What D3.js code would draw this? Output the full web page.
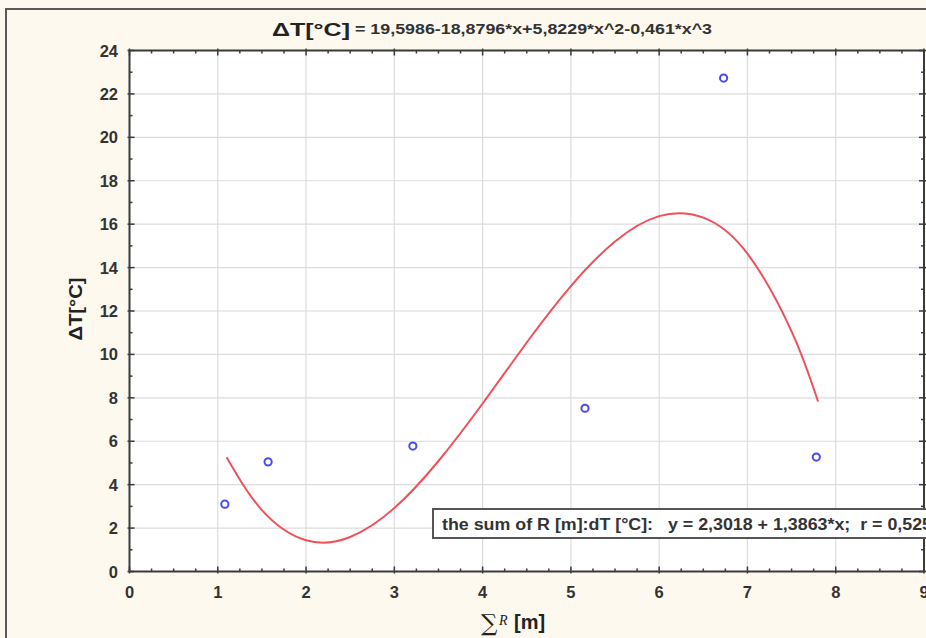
<!DOCTYPE html>
<html>
<head>
<meta charset="utf-8">
<script src="https://cdn.jsdelivr.net/npm/d3@7"></script>
<style>
html,body{margin:0;padding:0;background:#fdf9ef;overflow:hidden;}
svg{display:block;}
</style>
</head>
<body>
<svg id="chart" width="926" height="638"></svg>
<script>
// Observed data points (Sum R [m], dT [°C])
const pointX = [1.08, 1.57, 3.21, 5.16, 6.73, 7.78];
const pointY = [3.1, 5.05, 5.78, 7.52, 22.73, 5.27];
// Fitted curve
const curveX = [1.1, 1.5, 2.0, 2.5, 3.0, 3.5, 4.0, 4.5, 5.0, 5.5, 6.0, 6.5, 7.0, 7.5, 7.8];
const curveY = [5.26, 2.83, 1.44, 1.59, 2.92, 5.09, 7.74, 10.55, 13.15, 15.2, 16.37, 16.3, 14.64, 11.06, 7.83];
const xTicks = [0, 1, 2, 3, 4, 5, 6, 7, 8, 9];
const yTicks = [0, 2, 4, 6, 8, 10, 12, 14, 16, 18, 20, 22, 24];
const titleBold = "ΔT[°C]";
const titleRest = "= 19,5986-18,8796*x+5,8229*x^2-0,461*x^3";
const yLabel = "ΔT[°C]";
const legendText = "the sum of R [m]:dT [°C]:   y = 2,3018 + 1,3863*x;  r = 0,525";

const svg = d3.select("#chart");
const L = 129.5, R = 924, T = 50.5, B = 571.5;
const x = d3.scaleLinear().domain([0, 9]).range([L, R]);
const y = d3.scaleLinear().domain([0, 24]).range([B, T]);

svg.append("rect").attr("width", 926).attr("height", 638).attr("fill", "#fdf9ef");
svg.append("rect").attr("x", 6).attr("y", 9).attr("width", 1000).attr("height", 1000)
  .attr("fill", "none").attr("stroke", "#5a5a5a").attr("stroke-width", 2);

// plot area
svg.append("rect").attr("x", L).attr("y", T).attr("width", R - L).attr("height", B - T).attr("fill", "#ffffff");

// grid
const grid = svg.append("g").attr("stroke", "#dcdcdc").attr("stroke-width", 1.2);
xTicks.slice(1, -1).forEach(v => grid.append("line").attr("x1", x(v)).attr("x2", x(v)).attr("y1", T).attr("y2", B));
yTicks.slice(1, -1).forEach(v => grid.append("line").attr("y1", y(v)).attr("y2", y(v)).attr("x1", L).attr("x2", R));

// curve
svg.append("path")
  .datum(curveX.map((v, i) => [v, curveY[i]]))
  .attr("fill", "none").attr("stroke", "#f0505a").attr("stroke-width", 2)
  .attr("d", d3.line().x(d => x(d[0])).y(d => y(d[1])).curve(d3.curveNatural));

// points
svg.append("g").selectAll("circle").data(pointX.map((v, i) => [v, pointY[i]])).join("circle")
  .attr("cx", d => x(d[0])).attr("cy", d => y(d[1])).attr("r", 3.6)
  .attr("fill", "none").attr("stroke", "#4a4af0").attr("stroke-width", 2);

// frame with inward ticks
const fr = svg.append("g").attr("stroke", "#3a3a3a");
const xMinor = d3.range(0, 9.001, 0.25);
const yMinor = d3.range(0, 24.001, 1);
xMinor.forEach(v => {
  const major = Math.abs(v - Math.round(v)) < 1e-6;
  const len = major ? 5 : 3;
  fr.append("line").attr("x1", x(v)).attr("x2", x(v)).attr("y1", B + (major ? 2 : 0)).attr("y2", B - len).attr("stroke-width", 1.5);
  fr.append("line").attr("x1", x(v)).attr("x2", x(v)).attr("y1", T - (major ? 2 : 0)).attr("y2", T + len).attr("stroke-width", 1.5);
});
yMinor.forEach(v => {
  const major = v % 2 === 0;
  const len = major ? 5 : 3;
  fr.append("line").attr("y1", y(v)).attr("y2", y(v)).attr("x1", L - (major ? 2 : 0)).attr("x2", L + len).attr("stroke-width", 1.5);
  fr.append("line").attr("y1", y(v)).attr("y2", y(v)).attr("x1", R + (major ? 2 : 0)).attr("x2", R - len).attr("stroke-width", 1.5);
});
svg.append("rect").attr("x", L).attr("y", T).attr("width", R - L).attr("height", B - T)
  .attr("fill", "none").attr("stroke", "#3a3a3a").attr("stroke-width", 2);

// tick labels
const font = "'Liberation Sans', Arial, sans-serif";
svg.append("g").selectAll("text").data(yTicks).join("text")
  .attr("x", 118).attr("y", d => y(d) + 6).attr("text-anchor", "end")
  .attr("font-family", font).attr("font-weight", "bold").attr("font-size", 16.5).attr("fill", "#333")
  .text(d => d);
svg.append("g").selectAll("text").data(xTicks).join("text")
  .attr("x", d => x(d)).attr("y", 598).attr("text-anchor", "middle")
  .attr("font-family", font).attr("font-weight", "bold").attr("font-size", 16.5).attr("fill", "#333")
  .text(d => d);

// title
svg.append("text").attr("x", 272).attr("y", 36).attr("font-family", font).attr("fill", "#222")
  .attr("font-weight", "bold").attr("font-size", 19).attr("textLength", 78).attr("lengthAdjust", "spacingAndGlyphs")
  .text(titleBold);
svg.append("text").attr("x", 355).attr("y", 34).attr("font-family", font).attr("fill", "#333")
  .attr("font-weight", "bold").attr("font-size", 14).attr("textLength", 357).attr("lengthAdjust", "spacingAndGlyphs")
  .text(titleRest);

// y label
svg.append("text").attr("transform", "translate(82,309) rotate(-90)").attr("text-anchor", "middle")
  .attr("font-family", font).attr("font-weight", "bold").attr("font-size", 19).attr("fill", "#222")
  .attr("textLength", 63).attr("lengthAdjust", "spacingAndGlyphs").text(yLabel);

// x label
svg.append("text").attr("x", 481).attr("y", 631).attr("font-size", 23)
  .attr("font-family", "'DejaVu Serif', serif").attr("fill", "#222").text("∑");
svg.append("text").attr("x", 499).attr("y", 625).attr("font-size", 14).attr("font-style", "italic")
  .attr("font-family", "'Liberation Serif', serif").attr("fill", "#222").text("R");
svg.append("text").attr("x", 514).attr("y", 629).attr("font-size", 20).attr("font-weight", "bold")
  .attr("font-family", font).attr("fill", "#222").text("[m]");

// legend box
svg.append("rect").attr("x", 433).attr("y", 509).attr("width", 520).attr("height", 29)
  .attr("fill", "#ffffff").attr("stroke", "#555").attr("stroke-width", 2);
svg.append("text").attr("x", 442).attr("y", 529.5).attr("font-family", font).attr("font-weight", "bold")
  .attr("font-size", 16).attr("fill", "#333").attr("xml:space", "preserve").style("white-space", "pre")
  .attr("textLength", 490).attr("lengthAdjust", "spacingAndGlyphs").text(legendText);
</script>
</body>
</html>
